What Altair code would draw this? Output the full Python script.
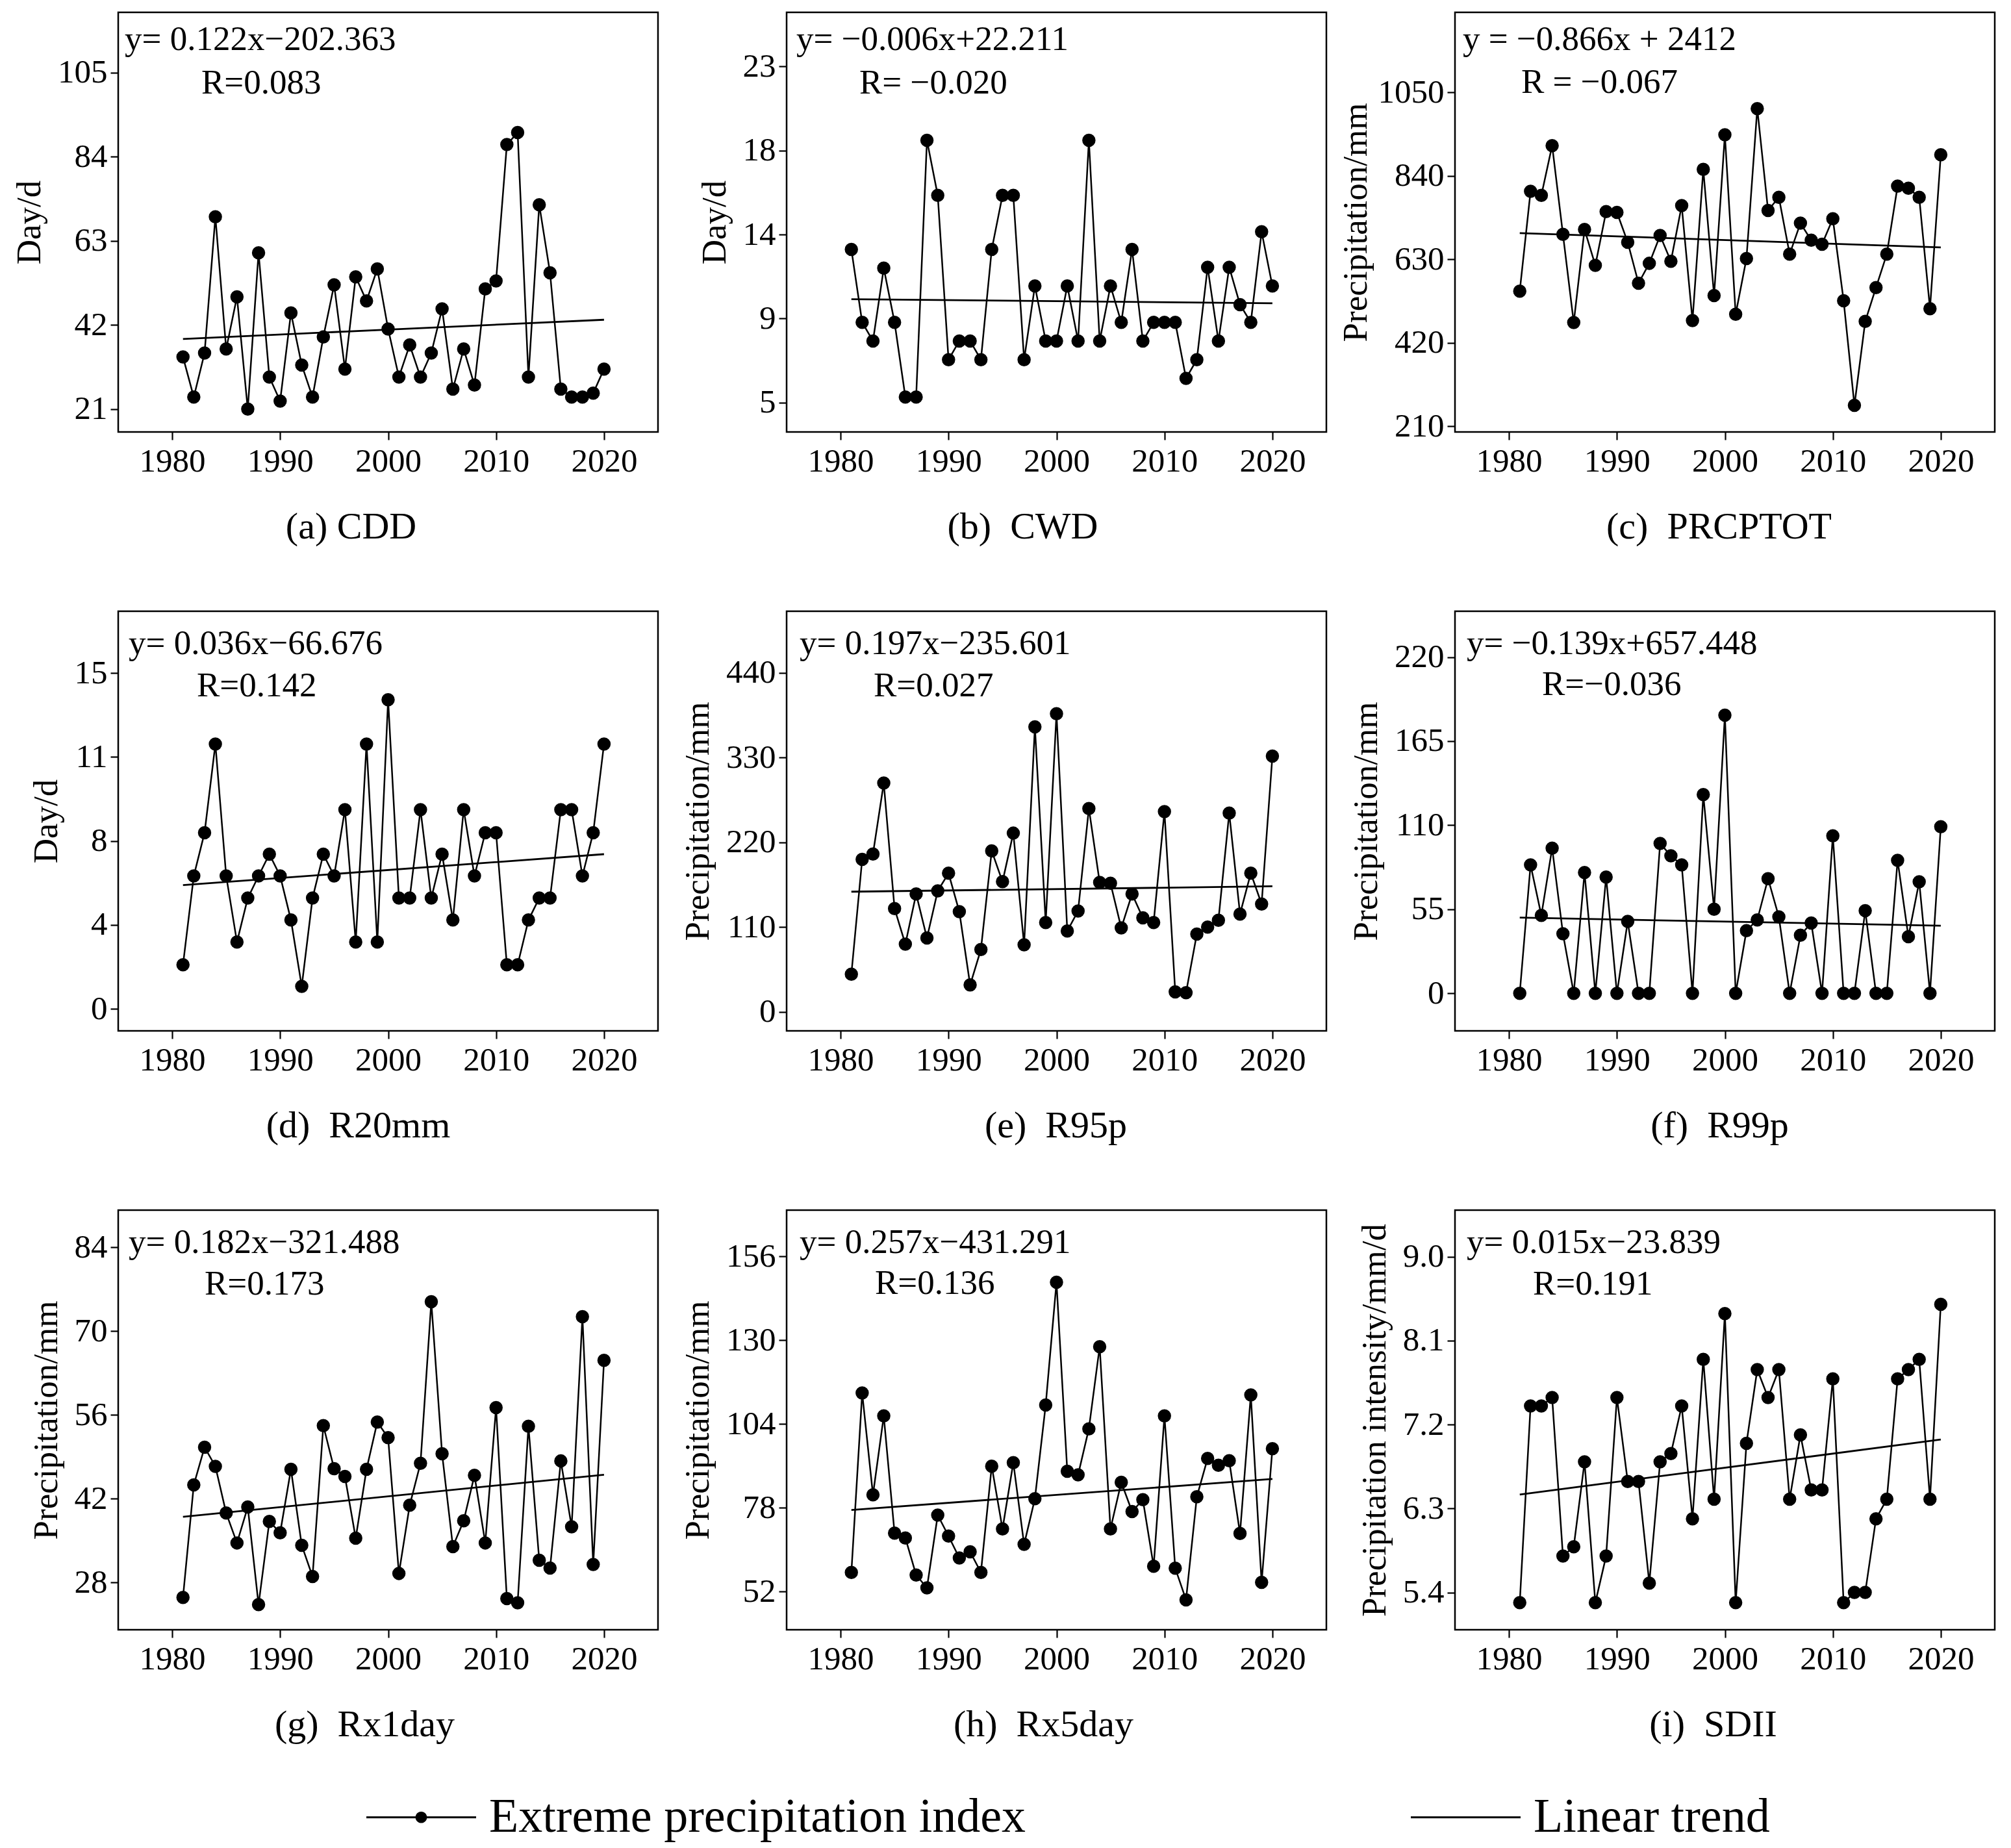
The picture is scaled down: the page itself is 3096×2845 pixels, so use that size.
import altair as alt
import pandas as pd

years = list(range(1981, 2021))

cdd = [34, 24, 35, 69, 36, 49, 21, 60, 29, 23,
       45, 32, 24, 39, 52, 31, 54, 48, 56, 41,
       29, 37, 29, 35, 46, 26, 36, 27, 51, 53,
       87, 90, 29, 72, 55, 26, 24, 24, 25, 31]
cwd = [13.2, 9.3, 8.3, 12.2, 9.3, 5.3, 5.3, 19.05, 16.1, 7.3,
       8.3, 8.3, 7.3, 13.2, 16.1, 16.1, 7.3, 11.25, 8.3, 8.3,
       11.25, 8.3, 19.05, 8.3, 11.25, 9.3, 13.2, 8.3, 9.3, 9.3,
       9.3, 6.3, 7.3, 12.25, 8.3, 12.25, 10.25, 9.3, 14.15, 11.25]
prcptot = [550, 801, 791, 916, 693, 471, 705, 615, 750, 748,
           673, 570, 620, 690, 625, 765, 476, 856, 539, 943,
           492, 632, 1009, 753, 786, 643, 721, 678, 668, 732,
           526, 263, 474, 559, 643, 814, 809, 786, 506, 893]
r20mm = [1.97, 5.94, 7.87, 11.83, 5.94, 2.99, 4.95, 5.94, 6.91, 5.94,
         3.97, 1.01, 4.95, 6.91, 5.94, 8.9, 2.99, 11.83, 2.99, 13.81,
         4.95, 4.95, 8.9, 4.95, 6.91, 3.97, 8.9, 5.94, 7.87, 7.87,
         1.97, 1.97, 3.97, 4.95, 4.95, 8.9, 8.9, 5.94, 7.87, 11.83]
r95p = [49, 198, 205, 297, 134, 88, 153, 96, 157, 180,
        130, 35, 81, 209, 169, 232, 87, 370, 116, 387,
        105, 131, 264, 168, 167, 109, 153, 122, 116, 260,
        26, 25, 101, 110, 119, 258, 127, 180, 140, 332]
r99p = [0, 84, 51, 95, 39, 0, 79, 0, 76, 0,
        47, 0, 0, 98, 90, 84, 0, 130, 55, 182,
        0, 41, 48, 75, 50, 0, 38, 46, 0, 103,
        0, 0, 54, 0, 0, 87, 37, 73, 0, 109]
rx1day = [25.5, 44.3, 50.6, 47.4, 39.6, 34.6, 40.6, 24.3, 38.2, 36.3,
          46.9, 34.2, 29.0, 54.2, 47.0, 45.7, 35.4, 46.9, 54.8, 52.2,
          29.5, 40.9, 47.9, 74.9, 49.5, 34.0, 38.3, 45.9, 34.6, 57.2,
          25.3, 24.6, 54.1, 31.7, 30.4, 48.3, 37.3, 72.4, 31.0, 65.1]
rx5day = [57.9, 113.6, 82.0, 106.5, 70.1, 68.6, 57.1, 53.1, 75.7, 69.2,
          62.4, 64.3, 57.9, 90.9, 71.4, 92.0, 66.6, 80.8, 109.9, 148.0,
          89.3, 88.2, 102.5, 128.0, 71.4, 85.9, 76.8, 80.5, 59.8, 106.5,
          59.2, 49.4, 81.4, 93.3, 91.2, 92.6, 70.0, 113.0, 54.8, 96.3]
sdii = [5.29, 7.40, 7.40, 7.49, 5.79, 5.89, 6.80, 5.29, 5.79, 7.49,
        6.59, 6.59, 5.50, 6.80, 6.89, 7.40, 6.19, 7.90, 6.40, 8.39,
        5.29, 7.00, 7.79, 7.49, 7.79, 6.40, 7.09, 6.50, 6.50, 7.69,
        5.29, 5.40, 5.40, 6.19, 6.40, 7.69, 7.79, 7.90, 6.40, 8.49]

series = [cdd, cwd, prcptot, r20mm, r95p, r99p, rx1day, rx5day, sdii]

trend_start = [38.5, 10.54, 696, 5.53, 156, 49.5, 38.96, 77.3, 6.45]
trend_end = [43.3, 10.32, 660, 6.91, 163, 44.2, 46.0, 86.9, 7.04]

captions = ["(a) CDD", "(b)\u00a0 CWD", "(c)\u00a0 PRCPTOT",
            "(d)\u00a0 R20mm", "(e)\u00a0 R95p", "(f)\u00a0 R99p",
            "(g)\u00a0 Rx1day", "(h)\u00a0 Rx5day", "(i)\u00a0 SDII"]
y_titles = ["Day/d", "Day/d", "Precipitation/mm",
            "Day/d", "Precipitation/mm", "Precipitation/mm",
            "Precipitation/mm", "Precipitation/mm", "Precipitation intensity/mm/d"]
eq_texts = ["y= 0.122x\u2212202.363", "y= \u22120.006x+22.211", "y = \u22120.866x + 2412",
            "y= 0.036x\u221266.676", "y= 0.197x\u2212235.601", "y= \u22120.139x+657.448",
            "y= 0.182x\u2212321.488", "y= 0.257x\u2212431.291", "y= 0.015x\u221223.839"]
r_texts = ["R=0.083", "R= \u22120.020", "R = \u22120.067",
           "R=0.142", "R=0.027", "R=\u22120.036",
           "R=0.173", "R=0.136", "R=0.191"]

y_domains = [[15.3, 120.0], [3.43, 25.9], [196, 1251],
             [-0.98, 17.76], [-24.6, 520], [-24.6, 250],
             [20.1, 90.2], [40.1, 170.4], [5.0, 9.5]]
y_tick_values = [[21, 42, 63, 84, 105], [5, 9.5, 14, 18.5, 23], [210, 420, 630, 840, 1050],
                 [0, 3.75, 7.5, 11.25, 15], [0, 110, 220, 330, 440], [0, 55, 110, 165, 220],
                 [28, 42, 56, 70, 84], [52, 78, 104, 130, 156], [5.4, 6.3, 7.2, 8.1, 9.0]]
y_tick_labels = [["21", "42", "63", "84", "105"], ["5", "9", "14", "18", "23"],
                 ["210", "420", "630", "840", "1050"], ["0", "4", "8", "11", "15"],
                 ["0", "110", "220", "330", "440"], ["0", "55", "110", "165", "220"],
                 ["28", "42", "56", "70", "84"], ["52", "78", "104", "130", "156"],
                 ["5.4", "6.3", "7.2", "8.1", "9.0"]]
x_ticks = [1980, 1990, 2000, 2010, 2020]

legend_labels = ["Extreme precipitation index", "Linear trend"]

# layout / style (pixels)
W, H = 831, 646
FONT = "Liberation Serif"
eq_pos = [(10, 42), (15, 42), (12, 42), (16, 50), (20, 50), (18, 50), (16, 50), (20, 50), (18, 50)]
r_pos = [(128, 109), (112, 109), (102, 108), (121, 115), (134, 115), (134, 113),
         (133, 114), (136, 113), (120, 114)]
cap_x = [358, 363, 406, 369, 414, 407, 379, 395, 397]
ytitle_pad = [16, 16, 7, 16, 16, 16, 16, 16, 16]


def label_expr(vals, labs):
    expr = "''"
    for v, l in zip(reversed(vals), reversed(labs)):
        expr = f"abs(datum.value - ({v})) < 1e-6 ? '{l}' : ({expr})"
    return expr


# legend symbols: thin filled bar (the line) + filled dot for the index series
bar = "M-1,-0.019L1,-0.019L1,0.019L-1,0.019Z"
path_idx = bar + "M0.105,0A0.105,0.105,0,1,1,-0.105,0A0.105,0.105,0,1,1,0.105,0Z"
path_trend = bar


def panel(i):
    df = pd.DataFrame({"year": years, "value": series[i]})
    tdf = pd.DataFrame({"year": [years[0], years[-1]],
                        "value": [trend_start[i], trend_end[i]]})
    x = alt.X("year:Q",
              scale=alt.Scale(domain=[1975, 2025], nice=False, zero=False),
              axis=alt.Axis(values=x_ticks, format="d", title=captions[i],
                            titleX=cap_x[i], titleY=146, titleAlign="center",
                            titleBaseline="middle", titleFontSize=58,
                            labelPadding=8))
    y = alt.Y("value:Q",
              scale=alt.Scale(domain=y_domains[i], nice=False, zero=False),
              axis=alt.Axis(values=y_tick_values[i],
                            labelExpr=label_expr(y_tick_values[i], y_tick_labels[i]),
                            title=y_titles[i], titlePadding=ytitle_pad[i],
                            labelPadding=5))
    line = alt.Chart(df).mark_line(color="black", strokeWidth=2.5).encode(x=x, y=y)
    trend = alt.Chart(tdf).mark_line(color="black", strokeWidth=2.8).encode(
        x="year:Q", y="value:Q")
    pts = alt.Chart(df).mark_circle(color="black", size=420, opacity=1).encode(
        x="year:Q", y="value:Q")
    eq = alt.Chart(pd.DataFrame({"t": [eq_texts[i]]})).mark_text(
        align="left", baseline="middle", fontSize=53, font=FONT, color="black").encode(
        text="t:N", x=alt.value(eq_pos[i][0]), y=alt.value(eq_pos[i][1]))
    rt = alt.Chart(pd.DataFrame({"t": [r_texts[i]]})).mark_text(
        align="left", baseline="middle", fontSize=53, font=FONT, color="black").encode(
        text="t:N", x=alt.value(r_pos[i][0]), y=alt.value(r_pos[i][1]))
    layers = [line, trend, pts, eq, rt]
    if i == 0:
        leg = alt.Chart(pd.DataFrame({"series": pd.Series([], dtype=str)})).mark_point(
            filled=True, fill="black", stroke="black", strokeWidth=0).encode(
            shape=alt.Shape("series:N",
                            scale=alt.Scale(domain=legend_labels, range=[path_idx, path_trend]),
                            legend=alt.Legend(title=None, orient="none",
                                              legendX=382, legendY=2694,
                                              direction="horizontal", columns=2,
                                              columnPadding=592, symbolSize=28561,
                                              symbolStrokeWidth=0,
                                              symbolFillColor="black",
                                              symbolStrokeColor="black",
                                              symbolOpacity=1,
                                              labelFontSize=74, labelFont=FONT,
                                              labelColor="black", labelLimit=3000,
                                              labelOffset=20, padding=0)))
        layers.append(leg)
    return alt.layer(*layers).properties(width=W, height=H)


chart = alt.concat(*[panel(i) for i in range(9)], columns=3,
                   spacing={"row": 276, "column": 198}, bounds="flush").properties(
    padding={"left": 10, "top": 9, "right": 5, "bottom": 5}
).configure(font=FONT).configure_view(
    stroke="black", strokeWidth=2.5
).configure_axis(
    domain=False, grid=False, ticks=True, tickColor="black", tickWidth=2.2,
    tickSize=12, labelFont=FONT, labelFontSize=51, labelColor="black",
    titleFont=FONT, titleFontSize=53, titleFontWeight="normal", titleColor="black"
)

chart.save("out.html", embed_options={"renderer": "svg", "actions": False})
